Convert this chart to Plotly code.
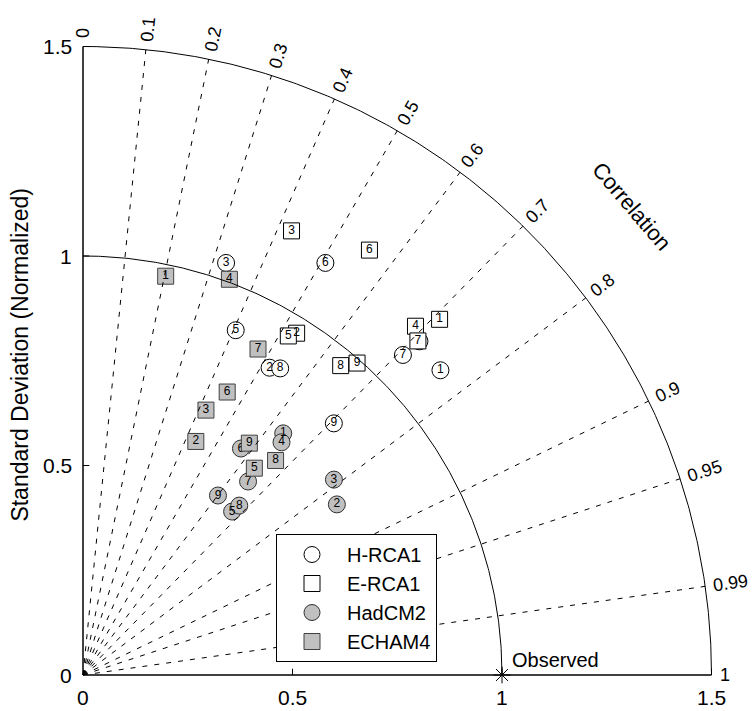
import numpy as np
import plotly.graph_objects as go

# ---------------- data (normalized std, correlation) ----------------
point_labels = ["1", "2", "3", "4", "5", "6", "7", "8", "9"]

hrca1_std = [1.121, 0.858, 1.041, 1.131, 0.900, 1.141, 1.080, 0.870, 0.848]
hrca1_corr = [0.761, 0.519, 0.328, 0.710, 0.405, 0.507, 0.707, 0.541, 0.706]

erca1_std = [1.202, 0.962, 1.171, 1.150, 0.946, 1.223, 1.129, 0.961, 0.991]
erca1_corr = [0.708, 0.530, 0.425, 0.690, 0.518, 0.559, 0.708, 0.640, 0.660]

hadcm2_std = [0.749, 0.730, 0.759, 0.730, 0.528, 0.659, 0.607, 0.550, 0.536]
hadcm2_corr = [0.638, 0.830, 0.789, 0.649, 0.674, 0.572, 0.649, 0.678, 0.601]

echam4_std = [0.972, 0.619, 0.697, 1.007, 0.641, 0.758, 0.883, 0.688, 0.681]
echam4_corr = [0.203, 0.435, 0.421, 0.347, 0.638, 0.454, 0.473, 0.668, 0.583]

observed_std = 1.0
observed_corr = 1.0

corr_ticks = [0, 0.1, 0.2, 0.3, 0.4, 0.5, 0.6, 0.7, 0.8, 0.9, 0.95, 0.99, 1]
corr_tick_labels = ["0", "0.1", "0.2", "0.3", "0.4", "0.5", "0.6", "0.7", "0.8",
                    "0.9", "0.95", "0.99", "1"]
dashed_corr = [0.1, 0.2, 0.3, 0.4, 0.5, 0.6, 0.7, 0.8, 0.9, 0.95, 0.99]
std_ticks = [0, 0.5, 1, 1.5]
std_tick_labels = ["0", "0.5", "1", "1.5"]
std_arcs = [1.0, 1.5]
std_max = 1.5

FONT = "Liberation Sans, Arial, Helvetica, sans-serif"
GREY = "#c0c0c0"


def to_xy(std, corr):
    s = np.asarray(std, float)
    c = np.asarray(corr, float)
    return s * c, s * np.sqrt(np.clip(1 - c ** 2, 0, None))


fig = go.Figure()

series = [
    ("H-RCA1", hrca1_std, hrca1_corr, "circle", "white", "#000000", 17),
    ("E-RCA1", erca1_std, erca1_corr, "square", "white", "#000000", 16),
    ("HadCM2", hadcm2_std, hadcm2_corr, "circle", GREY, "#303030", 17),
    ("ECHAM4", echam4_std, echam4_corr, "square", GREY, "#404040", 16),
]

for name, s, c, sym, fill, edge, size in series:
    x, y = to_xy(s, c)
    fig.add_trace(go.Scatter(
        x=x, y=y, mode="markers", name=name,
        marker=dict(symbol=sym, size=size, color=fill,
                    line=dict(color=edge, width=1)),
        hoverinfo="skip"))
    fig.add_trace(go.Scatter(
        x=x, y=y, mode="text", text=point_labels, showlegend=False,
        textposition="middle center",
        textfont=dict(family=FONT, size=12, color="black"),
        hoverinfo="skip"))

# dashed correlation rays
for c in dashed_corr:
    x, y = to_xy([0, std_max], [c, c])
    fig.add_trace(go.Scatter(x=x, y=y, mode="lines", showlegend=False,
                             line=dict(color="black", width=1, dash="5px,7px"),
                             hoverinfo="skip"))

# std arcs
theta = np.linspace(0, np.pi / 2, 300)
for r in std_arcs:
    fig.add_trace(go.Scatter(x=r * np.cos(theta), y=r * np.sin(theta), mode="lines",
                             showlegend=False, line=dict(color="black", width=1),
                             hoverinfo="skip"))

# axes lines
fig.add_trace(go.Scatter(x=[0, std_max], y=[0, 0], mode="lines", showlegend=False,
                         line=dict(color="black", width=1.5), hoverinfo="skip"))
fig.add_trace(go.Scatter(x=[0, 0], y=[0, std_max], mode="lines", showlegend=False,
                         line=dict(color="black", width=1.5), hoverinfo="skip"))

# ticks
tick_len = 0.015
shapes = []
for v in std_ticks[1:]:
    shapes.append(dict(type="line", xref="x", yref="y", x0=v, x1=v, y0=0, y1=tick_len,
                       line=dict(color="black", width=1)))
    shapes.append(dict(type="line", xref="x", yref="y", x0=0, x1=tick_len, y0=v, y1=v,
                       line=dict(color="black", width=1)))

# observed point
ox, oy = to_xy([observed_std], [observed_corr])
fig.add_trace(go.Scatter(x=ox, y=oy, mode="markers", showlegend=False,
                         marker=dict(symbol="asterisk-open", size=14, color="black",
                                     line=dict(color="black", width=1)),
                         hoverinfo="skip"))

annotations = []
# std tick labels
for v, t in zip(std_ticks, std_tick_labels):
    annotations.append(dict(x=v, y=-0.022, xref="x", yref="y", text=t, showarrow=False,
                            xanchor="center", yanchor="top",
                            font=dict(family=FONT, size=21, color="black")))
    annotations.append(dict(x=-0.022, y=v, xref="x", yref="y", text=t, showarrow=False,
                            xanchor="right", yanchor="middle",
                            font=dict(family=FONT, size=21, color="black")))

# correlation labels
for c, t in zip(corr_ticks, corr_tick_labels):
    ang = np.degrees(np.arccos(c))
    width_px = sum(0.278 if ch == "." else 0.556 for ch in t) * 18
    r = 1.52 + (width_px / 2) / 419
    lx, ly = to_xy([r], [c])
    annotations.append(dict(x=lx[0], y=ly[0], xref="x", yref="y", text=t, showarrow=False,
                            xanchor="center", yanchor="middle", textangle=-ang,
                            font=dict(family=FONT, size=18, color="black")))

cx, cy = to_xy([1.723], [np.cos(np.radians(40.5))])
annotations.append(dict(x=cx[0], y=cy[0], xref="x", yref="y", text="Correlation",
                        showarrow=False, textangle=49.5, xanchor="center", yanchor="middle",
                        font=dict(family=FONT, size=22, color="black")))

annotations.append(dict(x=-0.150, y=0.765, xref="x", yref="y",
                        text="Standard Deviation (Normalized)", showarrow=False,
                        textangle=-90, xanchor="center", yanchor="middle",
                        font=dict(family=FONT, size=23, color="black")))

annotations.append(dict(x=observed_std + 0.02, y=0.036, xref="x", yref="y", text="Observed",
                        showarrow=False, xanchor="left", yanchor="middle",
                        font=dict(family=FONT, size=20, color="black")))

x0px, y0px, scale = 83, 675, 419
fig.update_layout(
    width=754, height=711,
    margin=dict(l=0, r=0, t=0, b=0, pad=0),
    paper_bgcolor="white", plot_bgcolor="white",
    xaxis=dict(visible=False, range=[-x0px / scale, (754 - x0px) / scale], fixedrange=True),
    yaxis=dict(visible=False, range=[-(711 - y0px) / scale, y0px / scale], fixedrange=True),
    shapes=shapes,
    annotations=annotations,
    showlegend=True,
    legend=dict(x=276 / 754, y=1 - 534 / 711, xanchor="left", yanchor="top",
                bgcolor="white", bordercolor="black", borderwidth=1,
                font=dict(family=FONT, size=20, color="black"),
                itemwidth=60, tracegroupgap=0, entrywidth=126),
)

fig.write_html("out.html", config={"displayModeBar": False},
               post_script="document.body.style.margin='0px';")
